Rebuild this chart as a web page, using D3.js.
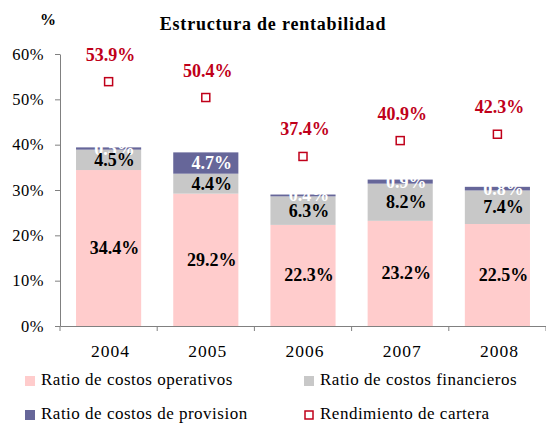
<!DOCTYPE html>
<html><head><meta charset="utf-8">
<script src="https://cdn.jsdelivr.net/npm/d3@7"></script>
<style>body{margin:0;background:#fff}svg{display:block}svg text{font-family:"Liberation Serif","Times New Roman",serif}</style>
</head><body><svg id="c" width="546" height="423"></svg>
<script>
const years = ["2004","2005","2006","2007","2008"];
const operativos = [34.4, 29.2, 22.3, 23.2, 22.5];
const financieros = [4.5, 4.4, 6.3, 8.2, 7.4];
const provision = [0.5, 4.7, 0.4, 0.9, 0.8];
const rendimiento = [53.9, 50.4, 37.4, 40.9, 42.3];
const yTicks = [0, 10, 20, 30, 40, 50, 60];
const seriesNames = ["Ratio de costos operativos","Ratio de costos financieros","Ratio de costos de provision","Rendimiento de cartera"];
const colors = ["#FFCCCC","#C8C8C8","#666699","#C0001A"];

const svg = d3.select("#c");
const x = d3.scaleBand().domain(years).range([60, 546]).paddingInner(0.33).paddingOuter(0.165);
const xAxisScale = d3.scaleBand().domain(years).range([60, 546]);
const y = d3.scaleLinear().domain([0, 60]).range([326, 54]);

svg.append("text").attr("x", 273).attr("y", 30).attr("text-anchor","middle")
  .attr("font-weight","bold").attr("font-size",18).attr("letter-spacing",0.8).text("Estructura de rentabilidad");
svg.append("text").attr("x", 48).attr("y", 25).attr("text-anchor","middle")
  .attr("font-weight","bold").attr("font-size",16).text("%");

// axes
const ya = svg.append("g").attr("transform","translate(60,0)")
  .call(d3.axisLeft(y).tickValues(yTicks).tickFormat(d => d + "%").tickSize(5).tickSizeOuter(0));
ya.attr("font-family", null);
ya.select(".domain").attr("stroke","#808080");
ya.selectAll(".tick line").attr("stroke","#808080");
ya.selectAll(".tick text").attr("font-size",16.5).attr("letter-spacing",0.5).attr("fill","#000").attr("x",-16);

const stacks = years.map((yr,i) => {
  const a = operativos[i], b = financieros[i], c = provision[i];
  return [
    {yr, y0:0, y1:a, v:a, k:0},
    {yr, y0:a, y1:a+b, v:b, k:1},
    {yr, y0:a+b, y1:a+b+c, v:c, k:2}
  ];
}).flat();

svg.append("g").selectAll("rect").data(stacks).join("rect")
  .attr("x", d => x(d.yr)).attr("width", x.bandwidth())
  .attr("y", d => y(d.y1)).attr("height", d => y(d.y0) - y(d.y1))
  .attr("fill", d => colors[d.k]);

const fmt = v => v.toFixed(1) + "%";
// provision labels (white) first
svg.append("g").selectAll("text").data(stacks.filter(d => d.k===2)).join("text")
  .attr("x", d => x(d.yr) + x.bandwidth()/2 + 6).attr("y", d => (y(d.y0)+y(d.y1))/2 + 6)
  .attr("text-anchor","middle").attr("font-weight","bold").attr("font-size",18).attr("fill","#fff")
  .text(d => fmt(d.v));
svg.append("g").selectAll("text").data(stacks.filter(d => d.k<2)).join("text")
  .attr("x", d => x(d.yr) + x.bandwidth()/2 + 6).attr("y", d => (y(d.y0)+y(d.y1))/2 + 6)
  .attr("text-anchor","middle").attr("font-weight","bold").attr("font-size",18).attr("fill","#000")
  .text(d => fmt(d.v));

const xa = svg.append("g").attr("transform","translate(0,326)")
  .call(d3.axisBottom(xAxisScale).tickSize(0).tickSizeOuter(0));
xa.attr("font-family", null);
xa.select(".domain").attr("stroke","#808080");
xa.selectAll(".tick text").attr("font-size",17.5).attr("letter-spacing",1).attr("fill","#000").attr("y",0).attr("dy",null).attr("transform","translate(2,31)");
svg.append("g").selectAll("line").data(years.concat(["end"])).join("line")
  .attr("x1", (d,i) => 60 + i*xAxisScale.step()).attr("x2", (d,i) => 60 + i*xAxisScale.step())
  .attr("y1", 326).attr("y2", 331).attr("stroke","#808080");

// rendimiento markers
svg.append("g").selectAll("rect").data(years).join("rect")
  .attr("x", d => x(d) + x.bandwidth()/2 - 4).attr("y", (d,i) => y(rendimiento[i]) - 4)
  .attr("width", 8).attr("height", 8).attr("fill","#fff").attr("stroke", colors[3]).attr("stroke-width",1.5);
svg.append("g").selectAll("text").data(years).join("text")
  .attr("x", d => x(d) + x.bandwidth()/2 + 2).attr("y", (d,i) => y(rendimiento[i]) - 21)
  .attr("text-anchor","middle").attr("font-weight","bold").attr("font-size",18).attr("fill", colors[3])
  .text((d,i) => fmt(rendimiento[i]));

// legend
const leg = [{x:25,y:385},{x:304,y:385},{x:25,y:419},{x:304,y:419}];
seriesNames.forEach((n,i) => {
  const g = svg.append("g").attr("transform", `translate(${leg[i].x},${leg[i].y})`);
  if (i < 3) g.append("rect").attr("x",0).attr("y",-9).attr("width",10).attr("height",10).attr("fill",colors[i]);
  else g.append("rect").attr("x",1).attr("y",-8).attr("width",8).attr("height",8).attr("fill","#fff").attr("stroke",colors[i]).attr("stroke-width",1.5);
  g.append("text").attr("x",16).attr("y",0).attr("font-size",17).attr("letter-spacing",0.5).text(n);
});
</script></body></html>
